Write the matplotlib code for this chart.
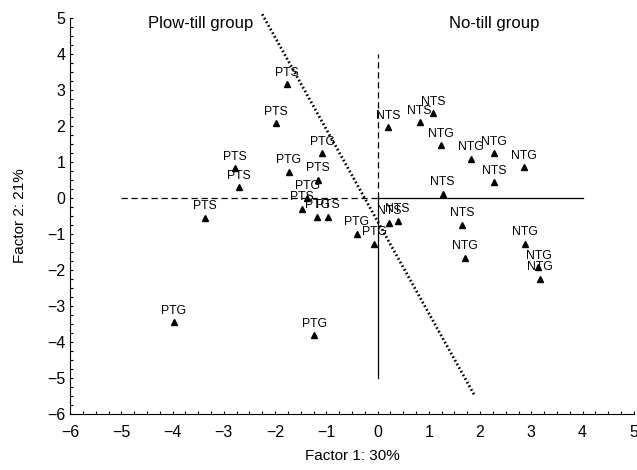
import matplotlib
matplotlib.use('Agg')
import matplotlib.pyplot as plt
from matplotlib.ticker import MultipleLocator

plt.rcParams['font.family'] = ['Liberation Sans', 'DejaVu Sans']

# factor scores
labels = ['PTS', 'PTS', 'PTG', 'PTS', 'PTS', 'PTG', 'PTS', 'PTG',
          'PTS', 'PTG', 'PTS', 'PTS', 'PTG', 'PTG', 'PTG', 'PTG',
          'NTS', 'NTS', 'NTS', 'NTG', 'NTG', 'NTG', 'NTG', 'NTS',
          'NTS', 'NTS', 'NTS', 'NTS', 'NTG', 'NTG', 'NTG', 'NTG']
f1 = [-1.76, -1.98, -1.08, -2.78, -2.71, -1.73, -1.16, -1.37,
      -1.47, -1.18, -0.96, -3.37, -0.41, -0.06, -3.98, -1.24,
      0.21, 0.82, 1.08, 1.24, 1.82, 2.27, 2.86, 2.27,
      1.27, 1.65, 0.22, 0.39, 1.71, 2.88, 3.14, 3.16]
f2 = [3.15, 2.07, 1.24, 0.83, 0.30, 0.72, 0.50, 0.00,
      -0.30, -0.52, -0.52, -0.55, -1.00, -1.27, -3.45, -3.81,
      1.96, 2.10, 2.35, 1.46, 1.08, 1.24, 0.85, 0.44,
      0.11, -0.75, -0.69, -0.63, -1.66, -1.27, -1.93, -2.24]
ticks = list(range(-6, 6))

# dividing line between groups
split_x = [-2.25, 1.88]
split_y = [5.1, -5.45]

fig = plt.figure(figsize=(6.37, 4.7), dpi=100)
ax = fig.add_axes([0.110, 0.119, 0.885, 0.843])

ax.plot(f1, f2, '^', color='black', markersize=4.5, clip_on=False)
for lab, x, y in zip(labels, f1, f2):
    ax.annotate(lab, (x, y), xytext=(0, 4), textcoords='offset points',
                ha='center', va='bottom', fontsize=8.8)

# reference axes through origin
ax.plot([-5, 0], [0, 0], color='black', lw=0.9, ls=(0, (5, 3)))
ax.plot([0, 4], [0, 0], color='black', lw=0.9)
ax.plot([0, 0], [0, 4], color='black', lw=0.9, ls=(0, (5, 3)))
ax.plot([0, 0], [0, -5], color='black', lw=0.9)
ax.plot(split_x, split_y, color='black', lw=2, ls=(0, (0.6, 0.9)), clip_on=False)

ax.text(-3.45, 4.85, 'Plow-till group', ha='center', va='center', fontsize=12)
ax.text(2.27, 4.85, 'No-till group', ha='center', va='center', fontsize=12)

ax.set_xlim(-6, 5)
ax.set_ylim(-6, 5)
ax.set_xticks(ticks)
ax.set_yticks(ticks)
ax.xaxis.set_minor_locator(MultipleLocator(0.25))
ax.yaxis.set_minor_locator(MultipleLocator(0.25))
ax.tick_params(which='both', direction='in', length=2.5, width=0.8, labelsize=11.5)
ax.tick_params(axis='x', pad=8)
ax.spines['top'].set_visible(False)
ax.spines['right'].set_visible(False)

ax.set_xlabel('Factor 1: 30%', fontsize=11, labelpad=6)
ax.set_ylabel('Factor 2: 21%', fontsize=11, labelpad=14)

fig.savefig('out.png', dpi=100)
